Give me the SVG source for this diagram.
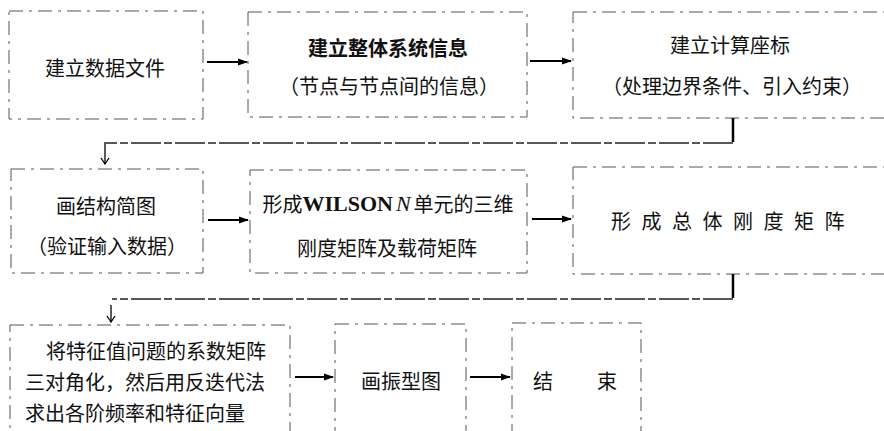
<svg xmlns="http://www.w3.org/2000/svg" width="884" height="431" viewBox="0 0 884 431">
  <style>
    .box { fill: none; stroke: #555; stroke-width: 1; stroke-dasharray: 14 6 3 6; }
    .t { font-family: "Noto Sans CJK SC", "Noto Sans CJK TC", sans-serif; font-size: 20px; fill: #111; dominant-baseline: central; }
    .c { text-anchor: middle; }
    .b { font-weight: bold; }
    .arr { stroke: #000; stroke-width: 2; fill: none; }
    .link { stroke: #222; stroke-width: 1.4; fill: none; stroke-dasharray: 30 3 8 3; }
    .bar { stroke: #000; stroke-width: 2.5; fill: none; }
    .down { stroke: #000; stroke-width: 1.3; fill: none; }
    .lat { font-family: "Liberation Serif", serif; font-size: 22px; }
  </style>
  <defs>
    <marker id="ah" markerWidth="10" markerHeight="8" refX="9" refY="4" orient="auto" markerUnits="userSpaceOnUse">
      <path d="M0,0.5 L10,4 L0,7.5 Z" fill="#000"/>
    </marker>
    <marker id="dv" markerWidth="10" markerHeight="10" refX="5" refY="9" orient="0" markerUnits="userSpaceOnUse">
      <path d="M1,3 L5,9 L9,3" fill="none" stroke="#000" stroke-width="1.3"/>
    </marker>
  </defs>
  <rect width="884" height="431" fill="#fff"/>

  <g id="n1">
    <rect class="box" x="9" y="11" width="194" height="108"/>
    <text class="t c" x="105" y="67">建立数据文件</text>
  </g>
  <g id="n2">
    <rect class="box" x="248" y="12" width="279" height="105"/>
    <text class="t c b" x="388" y="47">建立整体系统信息</text>
    <text class="t c" x="389" y="85">（节点与节点间的信息）</text>
  </g>
  <g id="n3">
    <rect class="box" x="573" y="12" width="320" height="106"/>
    <text class="t c" x="730" y="44">建立计算座标</text>
    <text class="t c" x="732" y="85">（处理边界条件、引入约束）</text>
  </g>
  <g id="n4">
    <rect class="box" x="11" y="169" width="192" height="104"/>
    <text class="t c" x="106" y="205">画结构简图</text>
    <text class="t c" x="107" y="245">（验证输入数据）</text>
  </g>
  <g id="n5">
    <rect class="box" x="250" y="170" width="277" height="103"/>
    <text class="t c" x="388" y="203">形成<tspan class="lat" font-weight="bold">WILSON</tspan><tspan class="lat" font-style="italic" dx="3">N</tspan><tspan dx="3">单元的三维</tspan></text>
    <text class="t c" x="387" y="247">刚度矩阵及载荷矩阵</text>
  </g>
  <g id="n6">
    <rect class="box" x="573" y="167" width="320" height="107"/>
    <text class="t c" x="733" y="220" letter-spacing="10.5">形成总体刚度矩阵</text>
  </g>
  <g id="n7">
    <rect class="box" x="10" y="325" width="280" height="115"/>
    <text class="t" x="46" y="350" font-size="21">将特征值问题的系数矩阵</text>
    <text class="t" x="25" y="381" font-size="21">三对角化，然后用反迭代法</text>
    <text class="t" x="25" y="412" font-size="21">求出各阶频率和特征向量</text>
  </g>
  <g id="n8">
    <rect class="box" x="335" y="324" width="131" height="116"/>
    <text class="t c" x="401" y="380">画振型图</text>
  </g>
  <g id="n9">
    <rect class="box" x="512" y="323" width="129" height="117"/>
    <text class="t" x="533" y="380">结</text>
    <text class="t" x="597" y="380">束</text>
  </g>

  <g id="connectors">
    <line class="arr" x1="207" y1="62" x2="247" y2="62" marker-end="url(#ah)"/>
    <line class="arr" x1="530" y1="61" x2="571" y2="61" marker-end="url(#ah)"/>
    <line class="bar" x1="733" y1="118" x2="733" y2="142"/>
    <polyline class="link" points="733,143 104,143"/>
    <line class="down" x1="105" y1="144" x2="105" y2="164" marker-end="url(#dv)"/>
    <line class="arr" x1="208" y1="220" x2="248" y2="220" marker-end="url(#ah)"/>
    <line class="arr" x1="532" y1="219" x2="571" y2="219" marker-end="url(#ah)"/>
    <line class="bar" x1="733" y1="274" x2="733" y2="298"/>
    <polyline class="link" points="733,299 112,299"/>
    <line class="down" x1="111" y1="305" x2="111" y2="322" marker-end="url(#dv)"/>
    <line class="arr" x1="295" y1="377" x2="333" y2="377" marker-end="url(#ah)"/>
    <line class="arr" x1="470" y1="377" x2="510" y2="377" marker-end="url(#ah)"/>
  </g>
</svg>
